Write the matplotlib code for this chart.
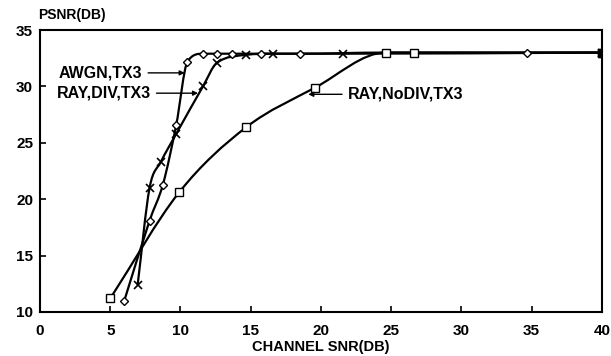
import matplotlib

matplotlib.use("Agg")

import matplotlib.pyplot as plt
import numpy as np
from matplotlib.patches import PathPatch
from matplotlib.path import Path

# AWGN, TX3 (diamonds)
awgn_x = [6.0, 7.8, 8.75, 9.7, 10.5, 11.6, 12.6, 13.7, 15.7, 18.5, 24.6, 34.7, 40.0]
awgn_y = [11.0, 18.1, 21.3, 26.6, 32.2, 32.9, 32.9, 32.9, 32.9, 32.9, 33.0, 33.0, 33.0]

# RAY, DIV, TX3 (crosses)
div_x = [6.95, 7.8, 8.6, 9.7, 11.6, 12.6, 14.7, 16.6, 21.6, 40.0]
div_y = [12.4, 21.0, 23.3, 25.8, 30.0, 32.1, 32.8, 32.9, 32.9, 33.0]

# RAY, NoDIV, TX3 (squares)
nodiv_x = [5.0, 9.9, 14.7, 19.6, 24.6, 26.6, 40.0]
nodiv_y = [11.2, 20.6, 26.4, 29.9, 33.0, 33.0, 33.0]

x_ticks = [0, 5, 10, 15, 20, 25, 30, 35, 40]
y_ticks = [10, 15, 20, 25, 30, 35]


def smooth_path(xs, ys):
    # cubic hermite through the points, central-difference tangents, clamped against overshoot
    x = np.asarray(xs, float)
    y = np.asarray(ys, float)
    h = np.diff(x)
    d = np.diff(y) / h
    m = np.zeros_like(x)
    m[0], m[-1] = d[0], d[-1]
    for i in range(1, len(x) - 1):
        c = (y[i + 1] - y[i - 1]) / (x[i + 1] - x[i - 1])
        m[i] = max(0.0, min(c, 3 * d[i - 1], 3 * d[i]))
    verts = [(x[0], y[0])]
    codes = [Path.MOVETO]
    for i in range(len(h)):
        verts += [(x[i] + h[i] / 3, y[i] + m[i] * h[i] / 3),
                  (x[i + 1] - h[i] / 3, y[i + 1] - m[i + 1] * h[i] / 3),
                  (x[i + 1], y[i + 1])]
        codes += [Path.CURVE4] * 3
    return Path(verts, codes)


plt.rcParams["font.family"] = ["Liberation Sans", "DejaVu Sans"]
plt.rcParams["font.weight"] = "bold"

fig = plt.figure(figsize=(6.11, 3.56), dpi=100, facecolor="white")
ax = fig.add_axes([0.0655, 0.1236, 0.9195, 0.7921])

for xs, ys in [(awgn_x, awgn_y), (div_x, div_y), (nodiv_x, nodiv_y)]:
    ax.add_patch(PathPatch(smooth_path(xs, ys), fc="none", ec="black", lw=1.6, zorder=2))

ax.plot(awgn_x, awgn_y, ls="none", marker="D", ms=4.5,
        mfc="white", mec="black", mew=1.0, zorder=3)
ax.plot(div_x, div_y, ls="none", marker="x", ms=6,
        mec="black", mew=1.2, zorder=3)
ax.plot(nodiv_x, nodiv_y, ls="none", marker="s", ms=6,
        mfc="white", mec="black", mew=1.0, zorder=3)
ax.plot([40.0], [33.0], marker="s", ms=6, color="black", zorder=4)

ax.set_xlim(0, 40)
ax.set_ylim(10, 35)
ax.set_xticks(x_ticks)
ax.set_yticks(y_ticks)
ax.tick_params(axis="x", direction="in", length=4, width=1.2, pad=9, labelsize=11)
ax.tick_params(axis="y", direction="in", length=4, width=1.2, pad=5, labelsize=11)
for lab in ax.get_xticklabels() + ax.get_yticklabels():
    lab.set_fontweight("bold")
for s in ax.spines.values():
    s.set_linewidth(1.5)

fig.text(0.062, 0.958, "PSNR(DB)", fontsize=10, fontweight="bold", ha="left", va="center")
fig.text(0.525, 0.025, "CHANNEL SNR(DB)", fontsize=10.5, fontweight="bold", ha="center", va="center")

arrow = dict(arrowstyle="-|>", color="black", lw=1.0, mutation_scale=7, shrinkA=2, shrinkB=0)
ax.annotate("AWGN,TX3", xy=(10.3, 31.2), xytext=(7.3, 31.2), fontsize=11.5, fontweight="bold",
            ha="right", va="center", arrowprops=arrow)
ax.annotate("RAY,DIV,TX3", xy=(11.25, 29.4), xytext=(7.9, 29.4), fontsize=11.5, fontweight="bold",
            ha="right", va="center", arrowprops=arrow)
ax.annotate("RAY,NoDIV,TX3", xy=(19.1, 29.3), xytext=(21.9, 29.3), fontsize=11.5, fontweight="bold",
            ha="left", va="center", arrowprops=arrow)

fig.savefig("out.png", dpi=100, facecolor="white")
